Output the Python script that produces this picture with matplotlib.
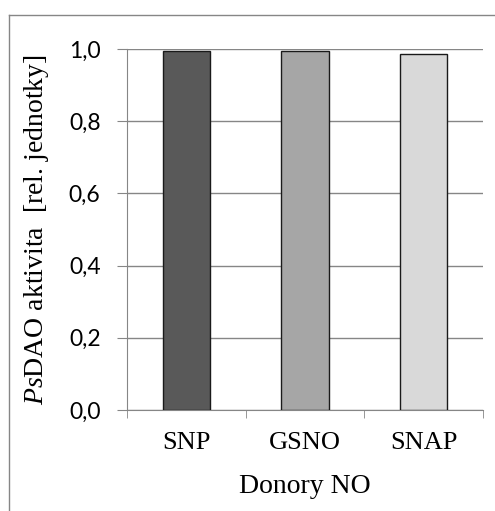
import matplotlib
matplotlib.use("Agg")
import matplotlib.pyplot as plt
from matplotlib.lines import Line2D

categories = ["SNP", "GSNO", "SNAP"]
values = [0.994, 0.994, 0.986]
colors = ["#595959", "#a6a6a6", "#d9d9d9"]
yticks = [0.0, 0.2, 0.4, 0.6, 0.8, 1.0]
ytick_labels = ["0,0", "0,2", "0,4", "0,6", "0,8", "1,0"]

plt.rcParams["mathtext.fontset"] = "custom"
plt.rcParams["mathtext.rm"] = "Liberation Serif"
plt.rcParams["mathtext.it"] = "Liberation Serif:italic"

W, H = 495, 511
fig = plt.figure(figsize=(W / 100, H / 100), dpi=100)
ax = fig.add_axes([127 / W, 1 - 410 / H, (483 - 127) / W, (410 - 49) / H])

x = list(range(len(categories)))
ax.bar(x, values, width=0.4, color=colors, edgecolor="#1a1a1a", linewidth=1.0, zorder=3)
ax.set_xlim(-0.5, len(categories) - 0.5)
ax.set_ylim(0, 1.0)

ax.set_yticks(yticks)
ax.set_yticklabels(ytick_labels, fontfamily="Lato", fontsize=16.5)
ax.yaxis.grid(True, color="#868686", linewidth=1.0, zorder=0)
ax.tick_params(axis="y", length=7, color="#868686", pad=12)

ax.set_xticks(x)
ax.set_xticklabels(categories, fontfamily="Liberation Serif", fontsize=19)
ax.tick_params(axis="x", length=0, pad=16)
# boundary ticks
ax.set_xticks([-0.5, 0.5, 1.5, 2.5], minor=True)
ax.tick_params(axis="x", which="minor", length=6, color="#868686", direction="out")

for s in ["top", "right"]:
    ax.spines[s].set_visible(False)
for s in ["left", "bottom"]:
    ax.spines[s].set_color("#868686")

ax.set_xlabel("Donory NO", fontfamily="Liberation Serif", fontsize=20, labelpad=14)
ax.set_ylabel(r"$\mathit{Ps}$DAO aktivita  [rel. jednotky]", fontfamily="Liberation Serif",
              fontsize=20, labelpad=13)

# chart-area border (partial)
fig.add_artist(Line2D([9 / W, 9 / W], [0, 1 - 15 / H], transform=fig.transFigure, color="#868686", lw=1))
fig.add_artist(Line2D([9 / W, 1], [1 - 15 / H, 1 - 15 / H], transform=fig.transFigure, color="#868686", lw=1))

fig.savefig("out.png", dpi=100)
